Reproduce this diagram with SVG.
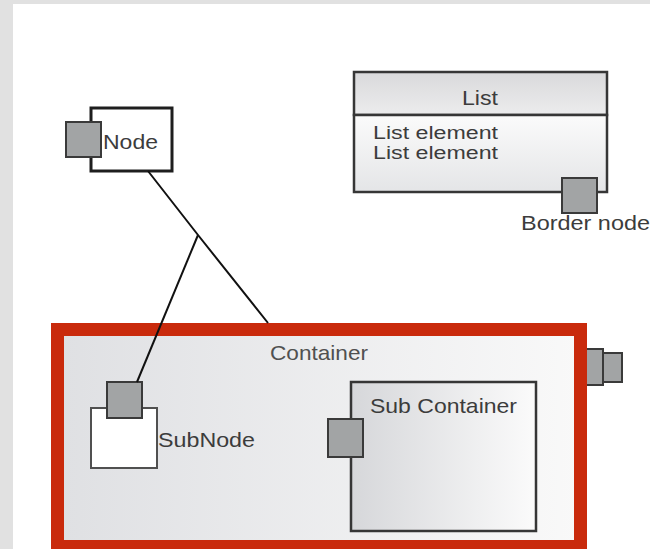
<svg xmlns="http://www.w3.org/2000/svg" width="650" height="549" viewBox="0 0 650 549">
  <defs>
    <linearGradient id="gCont" x1="0" y1="0" x2="1" y2="0">
      <stop offset="0" stop-color="#dfe0e3"/>
      <stop offset="1" stop-color="#f9f9f9"/>
    </linearGradient>
    <linearGradient id="gSub" x1="0" y1="0" x2="1" y2="0">
      <stop offset="0" stop-color="#d6d7da"/>
      <stop offset="1" stop-color="#fbfbfb"/>
    </linearGradient>
    <linearGradient id="gHead" x1="0" y1="0" x2="0" y2="1">
      <stop offset="0" stop-color="#d9d9db"/>
      <stop offset="1" stop-color="#ececed"/>
    </linearGradient>
    <linearGradient id="gBody" x1="0" y1="0" x2="0" y2="1">
      <stop offset="0" stop-color="#fbfbfb"/>
      <stop offset="1" stop-color="#e4e5e7"/>
    </linearGradient>
  </defs>
  <style>
    .lbl { font-family: "Liberation Sans", Arial, sans-serif; font-size: 21px; fill: #3c3c3c; }
    .small { font-size: 17.5px; }
    .clbl { font-family: "Liberation Sans", Arial, sans-serif; font-size: 21px; fill: #505050; }
    .port { fill: #a2a4a5; stroke: #3a3a3a; stroke-width: 2; }
    .rough { stroke: #1e1e1e; stroke-width: 3; }
    .box { stroke: #363636; stroke-width: 2.5; }
    .grayrough { stroke: #505050; stroke-width: 2; }
    .edge { fill: none; stroke: #111; stroke-width: 2; }
  </style>

  <rect x="0" y="0" width="650" height="549" fill="#e1e1e1"/>
  <rect x="13" y="4" width="637" height="545" fill="#ffffff"/>

  <g id="node">
    <rect x="91" y="108" width="81" height="63" fill="#ffffff" class="rough"/>
    <rect x="66" y="122" width="35" height="35" class="port"/>
    <text x="103" y="149" class="lbl" textLength="55" lengthAdjust="spacingAndGlyphs">Node</text>
  </g>

  <g id="list">
    <rect x="354" y="72" width="253" height="43" fill="url(#gHead)" class="box"/>
    <rect x="354" y="115" width="253" height="77" fill="url(#gBody)" class="box"/>
    <text x="480" y="105" class="lbl" text-anchor="middle" textLength="36" lengthAdjust="spacingAndGlyphs">List</text>
    <text x="373" y="139" class="lbl small" textLength="125" lengthAdjust="spacingAndGlyphs">List element</text>
    <text x="373" y="159" class="lbl small" textLength="125" lengthAdjust="spacingAndGlyphs">List element</text>
  </g>

  <g id="list-border-node">
    <rect x="562" y="178" width="35" height="35" class="port"/>
    <text x="521" y="230" class="lbl" textLength="129" lengthAdjust="spacingAndGlyphs">Border node</text>
  </g>

  <g id="container-border-node">
    <rect x="572" y="349" width="31" height="36" class="port"/>
    <rect x="603" y="353" width="19" height="29" class="port"/>
  </g>

  <g id="container">
    <rect x="57.5" y="329.5" width="523" height="217" fill="url(#gCont)" stroke="#c92a0c" stroke-width="13"/>
    <text x="270" y="360" class="clbl" textLength="98" lengthAdjust="spacingAndGlyphs">Container</text>
  </g>

  <g id="subnode">
    <rect x="91" y="408" width="66" height="60" fill="#ffffff" class="grayrough"/>
    <rect x="107" y="382" width="35" height="36" class="port"/>
    <text x="158" y="447" class="lbl" textLength="97" lengthAdjust="spacingAndGlyphs">SubNode</text>
  </g>

  <g id="subcontainer">
    <rect x="351" y="382" width="185" height="149" fill="url(#gSub)" class="box"/>
    <rect x="328" y="419" width="35" height="38" class="port"/>
    <text x="370" y="413" class="lbl" textLength="147" lengthAdjust="spacingAndGlyphs">Sub Container</text>
  </g>

  <g id="connectors">
    <polyline class="edge" points="148,171 198,235 268,323"/>
    <line class="edge" x1="198" y1="235" x2="137" y2="382"/>
  </g>
</svg>
